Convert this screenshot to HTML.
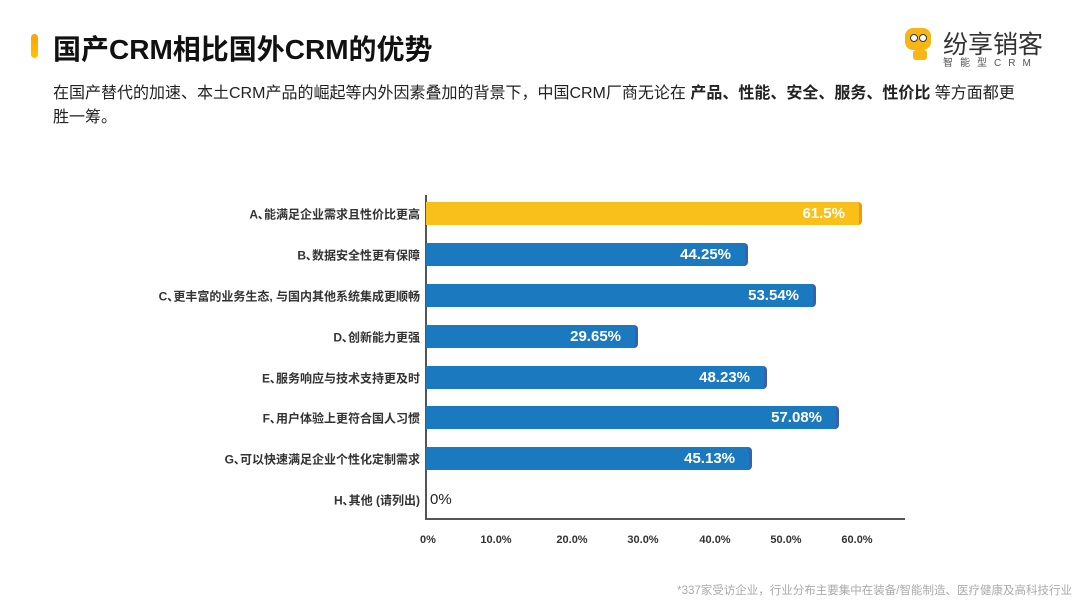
<!DOCTYPE html>
<html><head><meta charset="utf-8"><style>
body{margin:0;width:1080px;height:604px;background:#fff;font-family:"Liberation Sans","Noto Sans CJK SC",sans-serif;position:relative;overflow:hidden;color:#222}
.a{position:absolute;white-space:nowrap}
.lab{position:absolute;right:660px;font-size:12px;font-weight:bold;color:#333;transform:translateY(-50%)}
.bar{position:absolute;left:426px;height:23px;background:#1b79c0;border-radius:0 4px 4px 0;border-right:3px solid #3b5fb0;box-sizing:border-box}
.bar span{position:absolute;right:14px;top:3px;color:#fff;font-weight:bold;font-size:15px}
.tk{position:absolute;top:534px;font-size:11px;font-weight:bold;color:#333;transform:translateX(-50%)}
</style></head><body>
<div class="a" style="left:31px;top:34px;width:7px;height:24px;border-radius:4px;background:linear-gradient(#ffa000,#ffc400)"></div>
<div class="a" style="left:53px;top:28px;font-size:28px;font-weight:bold;color:#111">国产CRM相比国外CRM的优势</div>
<div class="a" style="left:53px;top:82px;font-size:16px;line-height:24px;color:#222;white-space:normal;width:1000px">在国产替代的加速、本土CRM产品的崛起等内外因素叠加的背景下，中国CRM厂商无论在 <b>产品、性能、安全、服务、性价比</b> 等方面都更<br>胜一筹。</div>
<div class="a" style="left:905px;top:28px;width:26px;height:22px;background:#f8b614;border-radius:8px"></div>
<div class="a" style="left:910px;top:34px;width:6px;height:6px;background:#fff;border-radius:50%;border:1px solid #333"></div>
<div class="a" style="left:919px;top:34px;width:6px;height:6px;background:#fff;border-radius:50%;border:1px solid #333"></div>
<div class="a" style="left:913px;top:50px;width:14px;height:10px;background:#f8b614;border-radius:3px"></div>
<div class="a" style="left:943px;top:25px;font-size:25px;color:#333">纷享销客</div>
<div class="a" style="left:943px;top:54px;font-size:10px;color:#555;letter-spacing:7px">智能型CRM</div>

<div class="a" style="left:425px;top:195px;width:2px;height:325px;background:#555"></div>
<div class="a" style="left:425px;top:518px;width:480px;height:2px;background:#555"></div>

<div class="lab" style="top:214px">A､能满足企业需求且性价比更高</div>
<div class="lab" style="top:255px">B､数据安全性更有保障</div>
<div class="lab" style="top:296px">C､更丰富的业务生态, 与国内其他系统集成更顺畅</div>
<div class="lab" style="top:337px">D､创新能力更强</div>
<div class="lab" style="top:378px">E､服务响应与技术支持更及时</div>
<div class="lab" style="top:418px">F､用户体验上更符合国人习惯</div>
<div class="lab" style="top:459px">G､可以快速满足企业个性化定制需求</div>
<div class="lab" style="top:500px">H､其他 (请列出)</div>

<div class="bar" style="top:202px;width:436px;background:#f9bf1b;border-right-color:#f29a00"><span>61.5%</span></div>
<div class="bar" style="top:243px;width:322px"><span>44.25%</span></div>
<div class="bar" style="top:284px;width:390px"><span>53.54%</span></div>
<div class="bar" style="top:325px;width:212px"><span>29.65%</span></div>
<div class="bar" style="top:366px;width:341px"><span>48.23%</span></div>
<div class="bar" style="top:406px;width:413px"><span>57.08%</span></div>
<div class="bar" style="top:447px;width:326px"><span>45.13%</span></div>
<div class="a" style="left:430px;top:491px;font-size:15px;color:#222">0%</div>

<div class="tk" style="left:428px">0%</div>
<div class="tk" style="left:496px">10.0%</div>
<div class="tk" style="left:572px">20.0%</div>
<div class="tk" style="left:643px">30.0%</div>
<div class="tk" style="left:715px">40.0%</div>
<div class="tk" style="left:786px">50.0%</div>
<div class="tk" style="left:857px">60.0%</div>

<div class="a" style="right:8px;top:582px;font-size:11.5px;color:#aaa">*337家受访企业，行业分布主要集中在装备/智能制造、医疗健康及高科技行业</div>
</body></html>
